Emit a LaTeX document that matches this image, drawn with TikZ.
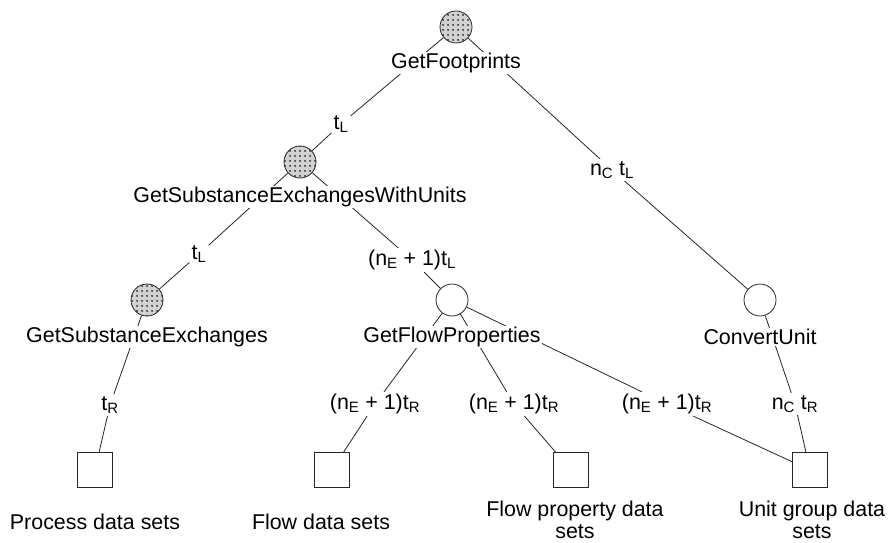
\documentclass[tikz,border=0pt]{standalone}
\usepackage{fontspec}
\setmainfont{Liberation Sans}
\usepackage{tikz}
\usetikzlibrary{patterns,backgrounds}
\pgfdeclarepatternformonly{cachedots}{\pgfpointorigin}{\pgfpoint{4.5pt}{4.5pt}}{\pgfpoint{4.5pt}{4.5pt}}{%
  \pgfpathcircle{\pgfpoint{2.25pt}{2.25pt}}{1.1pt}\pgfusepath{fill}}
\tikzstyle{edge} = [line width=0.8pt, color=black!85]
\tikzstyle{fnode} = [circle, minimum size=32pt, inner sep=0pt, draw=black!85, line width=0.8pt]
\tikzstyle{call} = [fnode, fill=white]
\tikzstyle{cached} = [fnode, preaction={fill=gray!35}, pattern=cachedots, pattern color=black!80]
\tikzstyle{dataset} = [rectangle, minimum size=35pt, inner sep=0pt, draw=black!85, line width=0.8pt, fill=white]
\tikzstyle{fname} = [fill=white, inner sep=1pt, font=\fontsize{21.4}{23}\selectfont]
\tikzstyle{cost} = [fill=white, inner sep=2pt, font=\fontsize{21.4}{23}\selectfont]
\tikzstyle{dsname} = [align=center, inner sep=0pt, font=\fontsize{21.4}{22}\selectfont]

\begin{document}
\begin{tikzpicture}[x=1pt, y=-1pt]
\useasboundingbox (0,0) rectangle (888,542);
% function calls
\node (fp) [cached] at (456,27) {};
\node (fptext) [fname, below of=fp, node distance=36pt] {GetFootprints};
\node (wu) [cached] at (300,162) {};
\node (wutext) [fname, below of=wu, node distance=35pt] {GetSubstanceExchangesWithUnits};
\node (se) [cached] at (147,300) {};
\node (setext) [fname, below of=se, node distance=37pt] {GetSubstanceExchanges};
\node (flp) [call] at (452,300) {};
\node (flptext) [fname, below of=flp, node distance=37pt] {GetFlowProperties};
\node (cu) [call] at (760,300) {};
\node (cutext) [fname, below of=cu, node distance=37pt] {ConvertUnit};

% data sets
\node (proc) [dataset] at (95,470) {};
\node (proctext) [dsname, below of=proc, node distance=52pt] {Process data sets};
\node (flow) [dataset] at (332,470) {};
\node (flowtext) [dsname, below of=flow, node distance=52pt, xshift=-11pt] {Flow data sets};
\node (fprop) [dataset] at (571,470) {};
\node (fproptext) [dsname, below of=fprop, node distance=50pt, xshift=4pt] {Flow property data\\sets};
\node (ugrp) [dataset] at (810,470) {};
\node (ugrptext) [dsname, below of=ugrp, node distance=50pt, xshift=2pt] {Unit group data\\sets};

% costs
\node (c1) [cost] at (341,124) {t\textsubscript{L}};
\node (c2) [cost] at (612,170) {n\textsubscript{C} t\textsubscript{L}};
\node (c3) [cost] at (199,254) {t\textsubscript{L}};
\node (c4) [cost] at (412,260) {(n\textsubscript{E} + 1)t\textsubscript{L}};
\node (c5) [cost] at (110,405) {t\textsubscript{R}};
\node (c6) [cost] at (375,404) {(n\textsubscript{E} + 1)t\textsubscript{R}};
\node (c7) [cost] at (514,404) {(n\textsubscript{E} + 1)t\textsubscript{R}};
\node (c8) [cost] at (667,404) {(n\textsubscript{E} + 1)t\textsubscript{R}};
\node (c9) [cost] at (795,404) {n\textsubscript{C} t\textsubscript{R}};

\begin{pgfonlayer}{background}
\fill[white] (0,0) rectangle (888,542);
\draw[edge] (fp) -- (c1) -- (wu);
\draw[edge] (fp) -- (c2) -- (cu);
\draw[edge] (wu) -- (c3) -- (se);
\draw[edge] (wu) -- (c4) -- (flp);
\draw[edge] (se) -- (c5) -- (proc);
\draw[edge] (flp) -- (c6) -- (flow);
\draw[edge] (flp) -- (c7) -- (fprop);
\draw[edge] (flp) -- (c8) -- (ugrp);
\draw[edge] (cu) -- (c9) -- (ugrp);
\end{pgfonlayer}
\end{tikzpicture}
\end{document}
